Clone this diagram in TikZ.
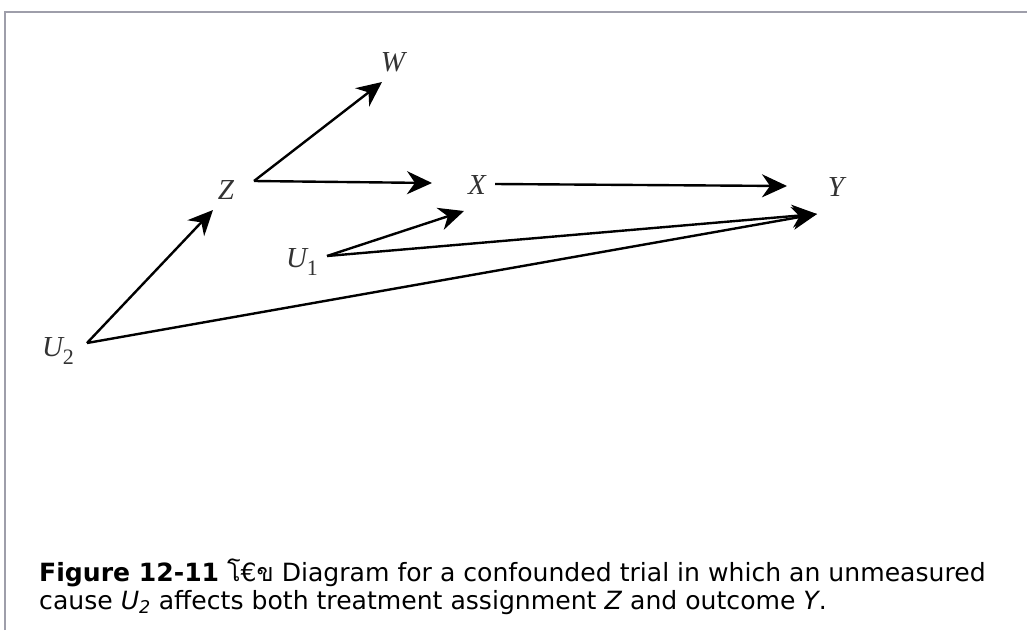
\documentclass[tikz,border=0pt]{standalone}
\usepackage{fontspec}
\newfontfamily\capfont{DejaVu Sans}
\newfontfamily\thaifont[Script=Thai]{Loma}
\newfontfamily\lblfont{Liberation Serif}
\usetikzlibrary{arrows.meta}
\definecolor{framegray}{RGB}{158,158,170}
\newcommand{\lowidx}[1]{\raisebox{-0.3em}{\fontsize{22}{22}\selectfont\upshape #1}}
\tikzset{
  lbl/.style={font=\lblfont\fontsize{29}{29}\selectfont\itshape, text=black!80, inner sep=0pt},
  edge/.style={line width=2.4pt, -{Stealth[length=25pt,width=23pt,inset=8pt]}},
  frame/.style={line width=2pt, draw=framegray},
  capline/.style={font=\capfont\fontsize{25.1}{28}\selectfont, anchor=base west, inner sep=0pt}
}
\begin{document}
\begin{tikzpicture}[x=1pt,y=-1pt]
  \useasboundingbox (0,0) rectangle (1027,630);
  \draw[frame] (5,630) -- (5,12) -- (1027,12);
  % variables
  \node[lbl] (W) at (393,62) {W};
  \node[lbl] (Z) at (226,190) {Z};
  \node[lbl] (X) at (477,185) {X};
  \node[lbl] (Y) at (836,187) {Y};
  \node[lbl] (U1) at (302,262) {U\lowidx{1}};
  \node[lbl] (U2) at (58,351) {U\lowidx{2}};
  % ports
  \coordinate (Z-out) at (254,181);
  \coordinate (X-out) at (495,184);
  \coordinate (U1-out) at (327,256);
  \coordinate (U2-out) at (87,343);
  \coordinate (W-in) at (382,82);
  \coordinate (X-in) at (432,183);
  \coordinate (X-low) at (464,211);
  \coordinate (Z-in) at (213,210);
  \coordinate (Y-in) at (787,186);
  \coordinate (Y-low) at (817,214);
  % arrows
  \draw[edge] (Z-out) -- (W-in);
  \draw[edge] (Z-out) -- (X-in);
  \draw[edge] (X-out) -- (Y-in);
  \draw[edge] (U1-out) -- (X-low);
  \draw[edge] (U1-out) -- (Y-low);
  \draw[edge] (U2-out) -- (Z-in);
  \draw[edge] (U2-out) -- (Y-low);
  % caption
  \node[capline] (cap1) at (39,581) {\textbf{Figure 12-11} {\thaifont โ}€{\thaifont ข} Diagram for a confounded trial in which an unmeasured};
  \node[capline] (cap2) at (39,609) {cause \textit{U\textsubscript{2}} affects both treatment assignment \textit{Z} and outcome \textit{Y}.};
\end{tikzpicture}
\end{document}
